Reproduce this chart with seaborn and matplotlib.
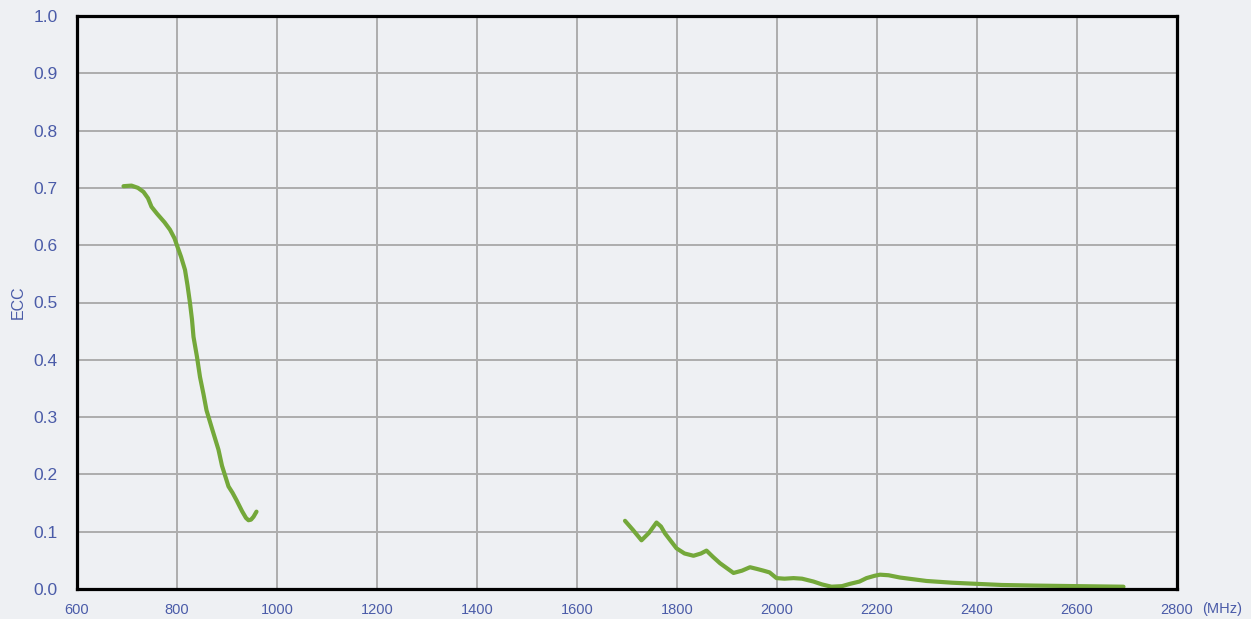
import numpy as np
import pandas as pd
import seaborn as sns
import matplotlib
matplotlib.use('Agg')
import matplotlib.pyplot as plt

# Banda baixa (MHz, ECC)
freq_baixa = [693, 709, 722, 733, 742, 749, 760, 775, 786, 795, 801, 808, 816, 821,
              826, 830, 833, 840, 846, 853, 859, 870, 883, 890, 903, 911, 919, 930,
              938, 943, 948, 953, 959]
ecc_baixa = [0.703, 0.704, 0.700, 0.693, 0.682, 0.667, 0.655, 0.640, 0.627, 0.612,
             0.597, 0.580, 0.557, 0.530, 0.499, 0.470, 0.440, 0.405, 0.370, 0.340,
             0.312, 0.280, 0.243, 0.215, 0.179, 0.168, 0.155, 0.136, 0.124, 0.120,
             0.121, 0.126, 0.135]

# Banda alta (MHz, ECC)
freq_alta = [1696, 1712, 1729, 1744, 1759, 1768, 1776, 1799, 1815, 1833, 1848, 1859,
             1872, 1886, 1913, 1930, 1946, 1960, 1973, 1985, 1999, 2015, 2033, 2050,
             2073, 2090, 2109, 2130, 2146, 2165, 2179, 2195, 2206, 2223, 2246, 2299,
             2350, 2399, 2450, 2513, 2599, 2693]
ecc_alta = [0.119, 0.103, 0.085, 0.098, 0.116, 0.109, 0.097, 0.071, 0.062, 0.058,
            0.062, 0.067, 0.056, 0.045, 0.028, 0.032, 0.038, 0.035, 0.032, 0.029,
            0.019, 0.018, 0.019, 0.018, 0.013, 0.008, 0.004, 0.005, 0.009, 0.013,
            0.019, 0.023, 0.025, 0.024, 0.020, 0.014, 0.011, 0.009, 0.007, 0.006,
            0.005, 0.004]

XTICKS = [600, 800, 1000, 1200, 1400, 1600, 1800, 2000, 2200, 2400, 2600, 2800]
YTICKS = [0.0, 0.1, 0.2, 0.3, 0.4, 0.5, 0.6, 0.7, 0.8, 0.9, 1.0]

FUNDO = '#EEF0F3'
AZUL = '#4A5BA8'
VERDE = '#74A83A'

df_baixa = pd.DataFrame({'freq': freq_baixa, 'ecc': ecc_baixa})
df_alta = pd.DataFrame({'freq': freq_alta, 'ecc': ecc_alta})

sns.set_style('white')
plt.rcParams['font.family'] = ['Liberation Sans', 'DejaVu Sans']

fig = plt.figure(figsize=(12.51, 6.19), dpi=100, facecolor=FUNDO)
ax = fig.add_axes([77 / 1251, 1 - 589 / 619, 1100 / 1251, 573 / 619])
ax.set_facecolor(FUNDO)

sns.lineplot(data=df_baixa, x='freq', y='ecc', color=VERDE, linewidth=3.0,
             ax=ax, zorder=3, solid_capstyle='round', solid_joinstyle='round')
sns.lineplot(data=df_alta, x='freq', y='ecc', color=VERDE, linewidth=3.0,
             ax=ax, zorder=3, solid_capstyle='round', solid_joinstyle='round')

ax.set_xlim(600, 2800)
ax.set_ylim(0, 1.0)
ax.set_xticks(XTICKS)
ax.set_yticks(YTICKS)
ax.set_xticklabels([str(v) for v in XTICKS], color=AZUL, fontsize=10.5)
ax.set_yticklabels([f'{v:.1f}' for v in YTICKS], color=AZUL, fontsize=12.5)
ax.tick_params(axis='x', length=0, pad=10)
ax.tick_params(axis='y', length=0, pad=14)

ax.grid(True, color='#ADADAD', linewidth=1.4, zorder=1)
for s in ax.spines.values():
    s.set_color('black')
    s.set_linewidth(2.3)
    s.set_zorder(4)

ax.set_xlabel('')
ax.set_ylabel('ECC', color=AZUL, fontsize=11.5)
ax.yaxis.set_label_coords(-0.047, 0.5)
fig.text(1222 / 1251, 1 - 609 / 619, '(MHz)', color=AZUL, fontsize=10.5,
         ha='center', va='center')

plt.savefig('out.png', dpi=100, facecolor=FUNDO)
